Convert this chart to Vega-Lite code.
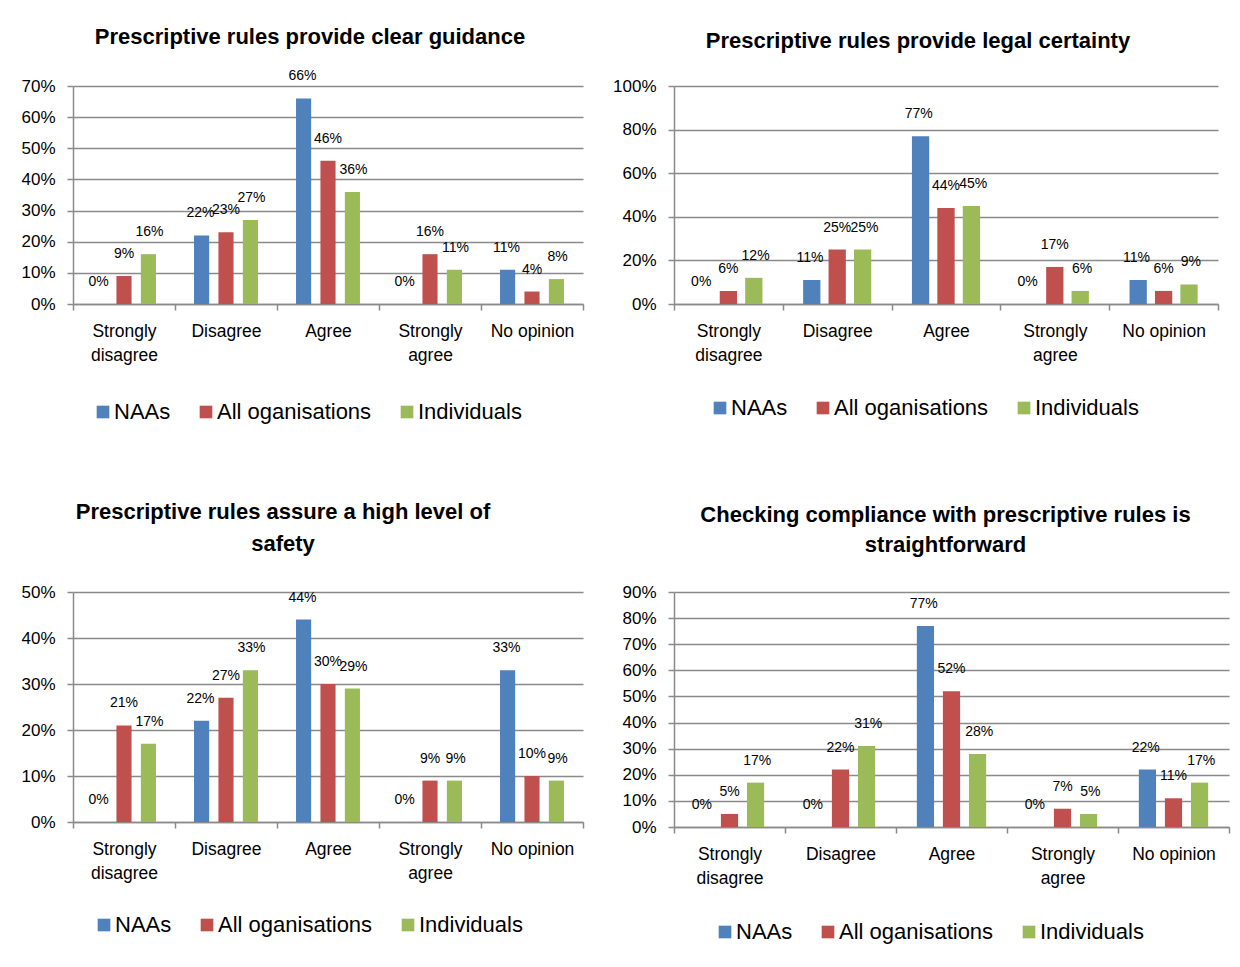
{
  "$schema": "https://vega.github.io/schema/vega-lite/v6.json",
  "background": "white",
  "padding": {"left": 20, "top": 26, "right": 8, "bottom": 8},
  "datasets": {
    "guidance": [
      {"answer": "Strongly disagree", "group": "NAAs", "share": 0.0},
      {"answer": "Strongly disagree", "group": "All oganisations", "share": 0.09},
      {"answer": "Strongly disagree", "group": "Individuals", "share": 0.16},
      {"answer": "Disagree", "group": "NAAs", "share": 0.22},
      {"answer": "Disagree", "group": "All oganisations", "share": 0.23},
      {"answer": "Disagree", "group": "Individuals", "share": 0.27},
      {"answer": "Agree", "group": "NAAs", "share": 0.66},
      {"answer": "Agree", "group": "All oganisations", "share": 0.46},
      {"answer": "Agree", "group": "Individuals", "share": 0.36},
      {"answer": "Strongly agree", "group": "NAAs", "share": 0.0},
      {"answer": "Strongly agree", "group": "All oganisations", "share": 0.16},
      {"answer": "Strongly agree", "group": "Individuals", "share": 0.11},
      {"answer": "No opinion", "group": "NAAs", "share": 0.11},
      {"answer": "No opinion", "group": "All oganisations", "share": 0.04},
      {"answer": "No opinion", "group": "Individuals", "share": 0.08}
    ],
    "certainty": [
      {"answer": "Strongly disagree", "group": "NAAs", "share": 0.0},
      {"answer": "Strongly disagree", "group": "All oganisations", "share": 0.06},
      {"answer": "Strongly disagree", "group": "Individuals", "share": 0.12},
      {"answer": "Disagree", "group": "NAAs", "share": 0.11},
      {"answer": "Disagree", "group": "All oganisations", "share": 0.25},
      {"answer": "Disagree", "group": "Individuals", "share": 0.25},
      {"answer": "Agree", "group": "NAAs", "share": 0.77},
      {"answer": "Agree", "group": "All oganisations", "share": 0.44},
      {"answer": "Agree", "group": "Individuals", "share": 0.45},
      {"answer": "Strongly agree", "group": "NAAs", "share": 0.0},
      {"answer": "Strongly agree", "group": "All oganisations", "share": 0.17},
      {"answer": "Strongly agree", "group": "Individuals", "share": 0.06},
      {"answer": "No opinion", "group": "NAAs", "share": 0.11},
      {"answer": "No opinion", "group": "All oganisations", "share": 0.06},
      {"answer": "No opinion", "group": "Individuals", "share": 0.09}
    ],
    "safety": [
      {"answer": "Strongly disagree", "group": "NAAs", "share": 0.0},
      {"answer": "Strongly disagree", "group": "All oganisations", "share": 0.21},
      {"answer": "Strongly disagree", "group": "Individuals", "share": 0.17},
      {"answer": "Disagree", "group": "NAAs", "share": 0.22},
      {"answer": "Disagree", "group": "All oganisations", "share": 0.27},
      {"answer": "Disagree", "group": "Individuals", "share": 0.33},
      {"answer": "Agree", "group": "NAAs", "share": 0.44},
      {"answer": "Agree", "group": "All oganisations", "share": 0.30},
      {"answer": "Agree", "group": "Individuals", "share": 0.29},
      {"answer": "Strongly agree", "group": "NAAs", "share": 0.0},
      {"answer": "Strongly agree", "group": "All oganisations", "share": 0.09},
      {"answer": "Strongly agree", "group": "Individuals", "share": 0.09},
      {"answer": "No opinion", "group": "NAAs", "share": 0.33},
      {"answer": "No opinion", "group": "All oganisations", "share": 0.10},
      {"answer": "No opinion", "group": "Individuals", "share": 0.09}
    ],
    "compliance": [
      {"answer": "Strongly disagree", "group": "NAAs", "share": 0.0},
      {"answer": "Strongly disagree", "group": "All oganisations", "share": 0.05},
      {"answer": "Strongly disagree", "group": "Individuals", "share": 0.17},
      {"answer": "Disagree", "group": "NAAs", "share": 0.0},
      {"answer": "Disagree", "group": "All oganisations", "share": 0.22},
      {"answer": "Disagree", "group": "Individuals", "share": 0.31},
      {"answer": "Agree", "group": "NAAs", "share": 0.77},
      {"answer": "Agree", "group": "All oganisations", "share": 0.52},
      {"answer": "Agree", "group": "Individuals", "share": 0.28},
      {"answer": "Strongly agree", "group": "NAAs", "share": 0.0},
      {"answer": "Strongly agree", "group": "All oganisations", "share": 0.07},
      {"answer": "Strongly agree", "group": "Individuals", "share": 0.05},
      {"answer": "No opinion", "group": "NAAs", "share": 0.22},
      {"answer": "No opinion", "group": "All oganisations", "share": 0.11},
      {"answer": "No opinion", "group": "Individuals", "share": 0.17}
    ]
  },
  "columns": 2,
  "align": "each",
  "bounds": "flush",
  "spacing": {"row": 288, "column": 91},
  "resolve": {"scale": {"color": "independent"}, "legend": {"color": "independent"}},
  "concat": [
    {
      "width": 510,
      "height": 218,
      "title": {"text": "Prescriptive rules provide clear guidance", "dx": -18, "offset": 20},
      "data": {"name": "guidance"},
      "encoding": {
        "x": {"field": "answer", "type": "nominal", "title": null,
          "sort": ["Strongly disagree", "Disagree", "Agree", "Strongly agree", "No opinion"],
          "scale": {"paddingInner": 0, "paddingOuter": 0}},
        "y": {"field": "share", "type": "quantitative", "title": null,
          "scale": {"domain": [0, 0.7]},
          "axis": {"values": [0, 0.1, 0.2, 0.3, 0.4, 0.5, 0.6, 0.7]}}
      },
      "resolve": {"scale": {"xOffset": "independent"}},
      "layer": [
        {
          "mark": {"type": "bar"},
          "encoding": {
            "xOffset": {"field": "group", "sort": ["NAAs", "All oganisations", "Individuals"],
              "scale": {"paddingInner": 0.38, "paddingOuter": 0.78}},
            "color": {"field": "group", "type": "nominal", "sort": ["NAAs", "All oganisations", "Individuals"],
              "scale": {"domain": ["NAAs", "All oganisations", "Individuals"], "range": ["#4F81BD", "#C0504D", "#9BBB59"]},
              "legend": {"orient": "none", "legendX": 19, "legendY": 315}}
          }
        },
        {
          "mark": {"type": "text", "dy": -22, "fontSize": 14, "color": "#000000"},
          "encoding": {
            "xOffset": {"field": "group", "sort": ["NAAs", "All oganisations", "Individuals"],
              "scale": {"paddingInner": 0, "paddingOuter": 1.04}},
            "text": {"field": "share", "type": "quantitative", "format": ".0%"}
          }
        }
      ]
    },
    {
      "width": 544,
      "height": 218,
      "title": {"text": "Prescriptive rules provide legal certainty", "dx": -28, "offset": 24},
      "data": {"name": "certainty"},
      "encoding": {
        "x": {"field": "answer", "type": "nominal", "title": null,
          "sort": ["Strongly disagree", "Disagree", "Agree", "Strongly agree", "No opinion"],
          "scale": {"paddingInner": 0, "paddingOuter": 0}},
        "y": {"field": "share", "type": "quantitative", "title": null,
          "scale": {"domain": [0, 1]},
          "axis": {"values": [0, 0.2, 0.4, 0.6, 0.8, 1]}}
      },
      "resolve": {"scale": {"xOffset": "independent"}},
      "layer": [
        {
          "mark": {"type": "bar"},
          "encoding": {
            "xOffset": {"field": "group", "sort": ["NAAs", "All oganisations", "Individuals"],
              "scale": {"paddingInner": 0.32, "paddingOuter": 0.8}},
            "color": {"field": "group", "type": "nominal", "sort": ["NAAs", "All oganisations", "Individuals"],
              "scale": {"domain": ["NAAs", "All oganisations", "Individuals"], "range": ["#4F81BD", "#C0504D", "#9BBB59"]},
              "legend": {"orient": "none", "legendX": 35, "legendY": 311}}
          }
        },
        {
          "mark": {"type": "text", "dy": -22, "fontSize": 14, "color": "#000000"},
          "encoding": {
            "xOffset": {"field": "group", "sort": ["NAAs", "All oganisations", "Individuals"],
              "scale": {"paddingInner": 0, "paddingOuter": 1.04}},
            "text": {"field": "share", "type": "quantitative", "format": ".0%"}
          }
        }
      ]
    },
    {
      "width": 510,
      "height": 230,
      "title": {"text": ["Prescriptive rules  assure a high level of", "safety"], "dx": -45, "offset": 27, "lineHeight": 32},
      "data": {"name": "safety"},
      "encoding": {
        "x": {"field": "answer", "type": "nominal", "title": null,
          "sort": ["Strongly disagree", "Disagree", "Agree", "Strongly agree", "No opinion"],
          "scale": {"paddingInner": 0, "paddingOuter": 0}},
        "y": {"field": "share", "type": "quantitative", "title": null,
          "scale": {"domain": [0, 0.5]},
          "axis": {"values": [0, 0.1, 0.2, 0.3, 0.4, 0.5]}}
      },
      "resolve": {"scale": {"xOffset": "independent"}},
      "layer": [
        {
          "mark": {"type": "bar"},
          "encoding": {
            "xOffset": {"field": "group", "sort": ["NAAs", "All oganisations", "Individuals"],
              "scale": {"paddingInner": 0.38, "paddingOuter": 0.78}},
            "color": {"field": "group", "type": "nominal", "sort": ["NAAs", "All oganisations", "Individuals"],
              "scale": {"domain": ["NAAs", "All oganisations", "Individuals"], "range": ["#4F81BD", "#C0504D", "#9BBB59"]},
              "legend": {"orient": "none", "legendX": 20, "legendY": 322}}
          }
        },
        {
          "mark": {"type": "text", "dy": -22, "fontSize": 14, "color": "#000000"},
          "encoding": {
            "xOffset": {"field": "group", "sort": ["NAAs", "All oganisations", "Individuals"],
              "scale": {"paddingInner": 0, "paddingOuter": 1.04}},
            "text": {"field": "share", "type": "quantitative", "format": ".0%"}
          }
        }
      ]
    },
    {
      "width": 555,
      "height": 235,
      "title": {"text": ["Checking compliance with prescriptive rules is", "straightforward"], "dx": -6, "offset": 26, "lineHeight": 30},
      "data": {"name": "compliance"},
      "encoding": {
        "x": {"field": "answer", "type": "nominal", "title": null,
          "sort": ["Strongly disagree", "Disagree", "Agree", "Strongly agree", "No opinion"],
          "scale": {"paddingInner": 0, "paddingOuter": 0}},
        "y": {"field": "share", "type": "quantitative", "title": null,
          "scale": {"domain": [0, 0.9]},
          "axis": {"values": [0, 0.1, 0.2, 0.3, 0.4, 0.5, 0.6, 0.7, 0.8, 0.9]}}
      },
      "resolve": {"scale": {"xOffset": "independent"}},
      "layer": [
        {
          "mark": {"type": "bar"},
          "encoding": {
            "xOffset": {"field": "group", "sort": ["NAAs", "All oganisations", "Individuals"],
              "scale": {"paddingInner": 0.34, "paddingOuter": 0.8}},
            "color": {"field": "group", "type": "nominal", "sort": ["NAAs", "All oganisations", "Individuals"],
              "scale": {"domain": ["NAAs", "All oganisations", "Individuals"], "range": ["#4F81BD", "#C0504D", "#9BBB59"]},
              "legend": {"orient": "none", "legendX": 40, "legendY": 329}}
          }
        },
        {
          "mark": {"type": "text", "dy": -22, "fontSize": 14, "color": "#000000"},
          "encoding": {
            "xOffset": {"field": "group", "sort": ["NAAs", "All oganisations", "Individuals"],
              "scale": {"paddingInner": 0, "paddingOuter": 1.04}},
            "text": {"field": "share", "type": "quantitative", "format": ".0%"}
          }
        }
      ]
    }
  ],
  "config": {
    "font": "Liberation Sans",
    "view": {"stroke": null},
    "text": {"font": "Liberation Sans"},
    "axis": {
      "labelFont": "Liberation Sans",
      "labelColor": "#000000",
      "domainColor": "#8a8a8a",
      "tickColor": "#8a8a8a",
      "gridColor": "#8a8a8a",
      "domainWidth": 1.5,
      "tickWidth": 1.5,
      "gridWidth": 1.5,
      "tickSize": 6
    },
    "axisX": {
      "grid": false,
      "tickBand": "extent",
      "labelAngle": 0,
      "labelFontSize": 17.5,
      "labelPadding": 12,
      "labelLineHeight": 24,
      "labelExpr": "indexof(datum.label, 'Strongly') == 0 ? split(datum.label, ' ') : datum.label"
    },
    "axisY": {
      "labelFontSize": 17,
      "labelPadding": 12,
      "format": ".0%"
    },
    "legend": {
      "title": null,
      "direction": "horizontal",
      "symbolType": "square",
      "symbolSize": 160,
      "symbolStrokeWidth": 0,
      "symbolOpacity": 1,
      "labelFont": "Liberation Sans",
      "labelFontSize": 22,
      "labelColor": "#000000",
      "labelOffset": 0,
      "columnPadding": 24,
      "labelLimit": 300
    },
    "title": {
      "font": "Liberation Sans",
      "fontSize": 22,
      "fontWeight": "bold",
      "color": "#000000",
      "anchor": "middle"
    }
  }
}
